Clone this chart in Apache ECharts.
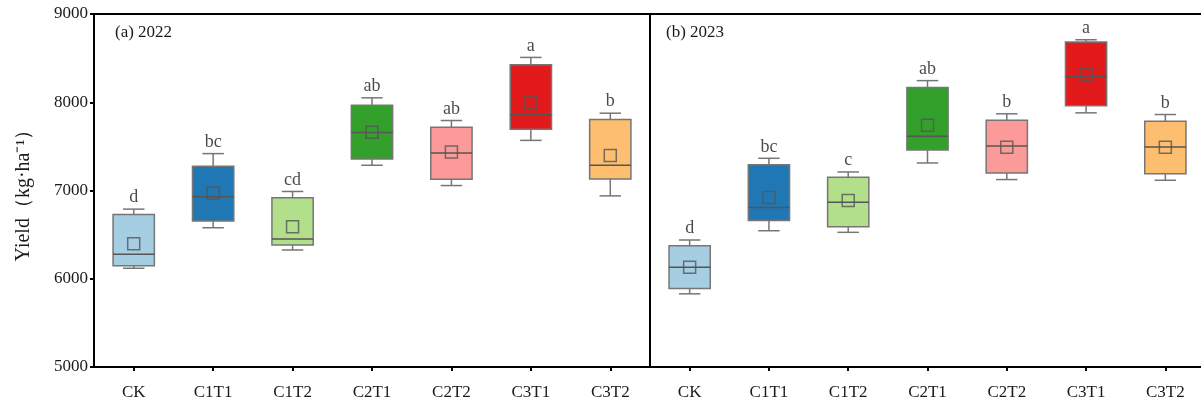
<!DOCTYPE html>
<html>
<head>
<meta charset="utf-8">
<script src="https://cdn.jsdelivr.net/npm/echarts@6/dist/echarts.min.js"></script>
<style>html,body{margin:0;padding:0;background:#fff}#c{width:1201px;height:403px}</style>
</head>
<body>
<div id="c"></div>
<script>
const categories = ['CK','C1T1','C1T2','C2T1','C2T2','C3T1','C3T2'];
const colors = ['#a6cee3','#1f78b4','#b2df8a','#33a02c','#fb9a99','#e31a1c','#fdbf6f'];
const yTicks = [5000, 6000, 7000, 8000, 9000];

// 2022
const min2022 = [6119, 6578, 6326, 7286, 7056, 7568, 6939];
const q1_2022 = [6146, 6653, 6382, 7357, 7127, 7695, 7131];
const med2022 = [6278, 6928, 6450, 7658, 7424, 7858, 7286];
const q3_2022 = [6729, 7274, 6917, 7966, 7718, 8425, 7805];
const max2022 = [6789, 7418, 6989, 8050, 7793, 8508, 7876];
const mean2022 = [6397, 6973, 6589, 7660, 7436, 8000, 7398];
const letters2022 = ['d','bc','cd','ab','ab','a','b'];

// 2023
const min2023 = [5829, 6544, 6526, 7312, 7124, 7880, 7116];
const q1_2023 = [5889, 6661, 6589, 7458, 7199, 7959, 7191];
const med2023 = [6131, 6808, 6868, 7616, 7503, 8290, 7492];
const q3_2023 = [6375, 7293, 7150, 8166, 7797, 8682, 7786];
const max2023 = [6439, 7365, 7210, 8245, 7869, 8708, 7861];
const mean2023 = [6130, 6921, 6887, 7740, 7489, 8316, 7489];
const letters2023 = ['d','bc','c','ab','b','a','b'];

const FONT = '"Liberation Serif", "Times New Roman", serif';
const LINE = '#767676';

function renderBox(params, api) {
  const i = api.value(0);
  const cx = api.coord([i, 0])[0];
  const band = api.size([1, 0])[0];
  const bw = band * 0.52;
  const cw = bw * 0.52;
  const y = k => api.coord([i, api.value(k)])[1];
  const yMin = y(1), yQ1 = y(2), yMed = y(3), yQ3 = y(4), yMax = y(5);
  const ls = { stroke: LINE, lineWidth: 1.5 };
  return {
    type: 'group',
    children: [
      { type: 'line', shape: { x1: cx, y1: yQ3, x2: cx, y2: yMax }, style: ls },
      { type: 'line', shape: { x1: cx - cw / 2, y1: yMax, x2: cx + cw / 2, y2: yMax }, style: ls },
      { type: 'line', shape: { x1: cx, y1: yQ1, x2: cx, y2: yMin }, style: ls },
      { type: 'line', shape: { x1: cx - cw / 2, y1: yMin, x2: cx + cw / 2, y2: yMin }, style: ls },
      { type: 'rect', shape: { x: cx - bw / 2, y: yQ3, width: bw, height: yQ1 - yQ3 },
        style: { fill: colors[params.dataIndex], stroke: LINE, lineWidth: 1.5 } },
      { type: 'line', shape: { x1: cx - bw / 2, y1: yMed, x2: cx + bw / 2, y2: yMed }, style: { stroke: '#555', lineWidth: 1.5 } }
    ]
  };
}

function seriesFor(idx, mn, q1, md, q3, mx, mean, letters) {
  return [
    {
      type: 'custom', xAxisIndex: idx, yAxisIndex: idx,
      renderItem: renderBox,
      encode: { x: 0, y: [1, 2, 3, 4, 5] },
      data: categories.map((c, i) => [i, mn[i], q1[i], md[i], q3[i], mx[i]]),
      silent: true, z: 2
    },
    {
      type: 'scatter', xAxisIndex: idx, yAxisIndex: idx,
      symbol: 'rect', symbolSize: 12, z: 5,
      itemStyle: { color: 'rgba(0,0,0,0)', borderColor: '#555', borderWidth: 1.5 },
      data: mean.map((v, i) => [i, v]),
      silent: true
    },
    {
      type: 'scatter', xAxisIndex: idx, yAxisIndex: idx,
      symbolSize: 1, z: 6,
      itemStyle: { color: 'rgba(0,0,0,0)' },
      label: {
        show: true, position: 'top', distance: 2,
        fontFamily: FONT, fontSize: 18, color: '#1a1a1a',
        formatter: p => letters[p.dataIndex]
      },
      data: mx.map((v, i) => [i, v]),
      silent: true
    }
  ];
}

function xAxis(gi) {
  return {
    type: 'category', gridIndex: gi, data: categories,
    axisLine: { show: true, lineStyle: { color: '#000', width: 2 } },
    axisTick: { show: true, alignWithLabel: true, length: 4, lineStyle: { color: '#000', width: 2 } },
    axisLabel: { fontFamily: FONT, fontSize: 17, color: '#1a1a1a', margin: 17 },
    splitLine: { show: false }
  };
}
function yAxis(gi, showLabels) {
  return {
    type: 'value', gridIndex: gi, min: yTicks[0], max: yTicks[yTicks.length - 1], interval: 1000,
    axisLine: { show: true, lineStyle: { color: '#000', width: 2 } },
    axisTick: { show: showLabels, length: 4, lineStyle: { color: '#000', width: 2 } },
    axisLabel: { show: showLabels, fontFamily: FONT, fontSize: 17, color: '#1a1a1a', margin: 6, formatter: v => String(v) },
    splitLine: { show: false },
    name: showLabels ? 'Yield（kg·ha⁻¹）' : '',
    nameLocation: 'middle', nameGap: 60, nameRotate: 90,
    nameTextStyle: { fontFamily: FONT, fontSize: 20, color: '#1a1a1a' }
  };
}

const chart = echarts.init(document.getElementById('c'), null, { renderer: 'canvas' });
chart.setOption({
  animation: false,
  backgroundColor: '#fff',
  title: [
    { text: '(a) 2022', left: 110, top: 19, textStyle: { fontFamily: FONT, fontSize: 17, fontWeight: 'normal', color: '#1a1a1a' } },
    { text: '(b) 2023', left: 661, top: 19, textStyle: { fontFamily: FONT, fontSize: 17, fontWeight: 'normal', color: '#1a1a1a' } }
  ],
  grid: [
    { left: 94, top: 14, width: 556, height: 353, show: true, borderColor: '#000', borderWidth: 2, backgroundColor: 'transparent', outerBoundsMode: 'none', containLabel: false },
    { left: 650, top: 14, width: 555, height: 353, show: true, borderColor: '#000', borderWidth: 2, backgroundColor: 'transparent', outerBoundsMode: 'none', containLabel: false }
  ],
  xAxis: [xAxis(0), xAxis(1)],
  yAxis: [yAxis(0, true), yAxis(1, false)],
  series: [
    ...seriesFor(0, min2022, q1_2022, med2022, q3_2022, max2022, mean2022, letters2022),
    ...seriesFor(1, min2023, q1_2023, med2023, q3_2023, max2023, mean2023, letters2023)
  ]
});
</script>
</body>
</html>
